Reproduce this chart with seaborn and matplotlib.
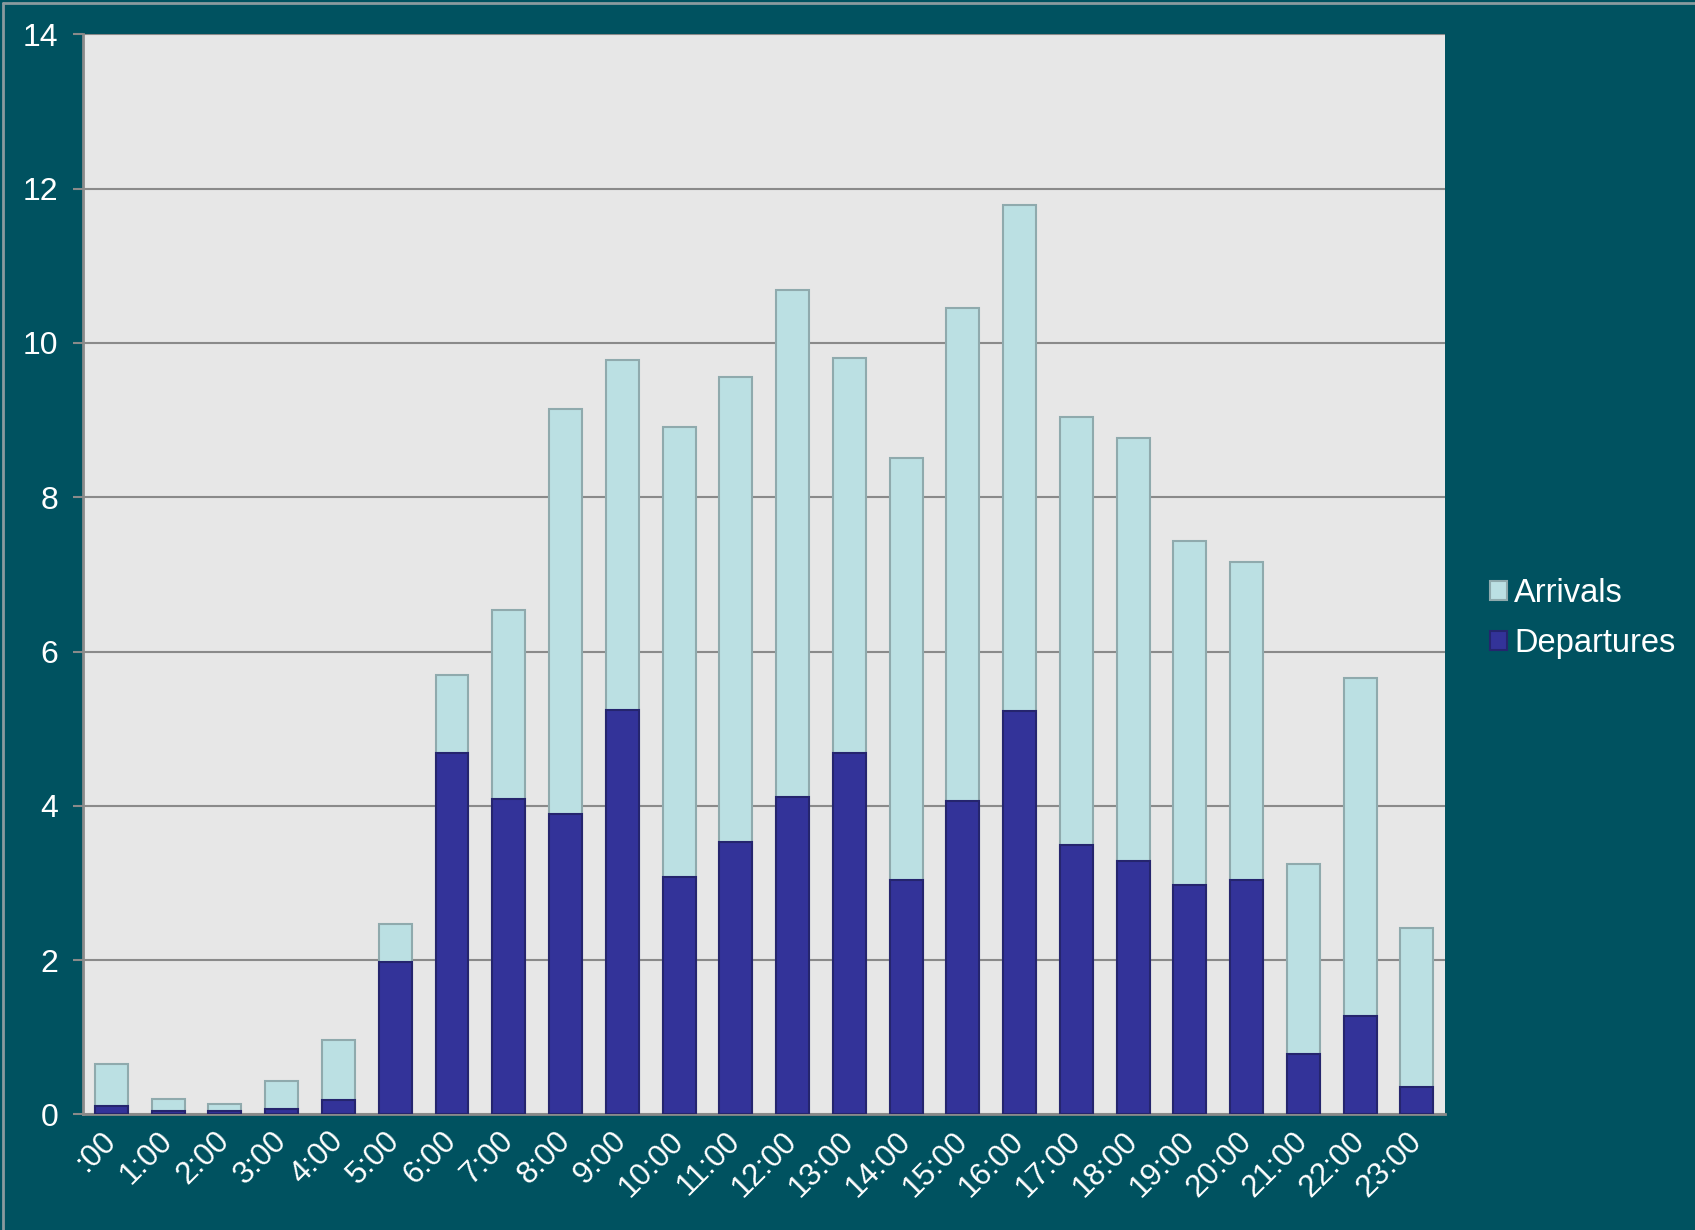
import matplotlib
matplotlib.use("Agg")
import matplotlib.pyplot as plt
import seaborn as sns
import pandas as pd
from matplotlib.patches import Patch
from matplotlib.lines import Line2D

hours = [":00", "1:00", "2:00", "3:00", "4:00", "5:00", "6:00", "7:00", "8:00", "9:00",
         "10:00", "11:00", "12:00", "13:00", "14:00", "15:00", "16:00", "17:00", "18:00",
         "19:00", "20:00", "21:00", "22:00", "23:00"]
departures = [0.11, 0.04, 0.04, 0.07, 0.18, 1.98, 4.68, 4.09, 3.90, 5.24, 3.08, 3.53,
              4.12, 4.68, 3.04, 4.06, 5.23, 3.49, 3.28, 2.98, 3.04, 0.78, 1.28, 0.35]
arrivals = [0.54, 0.16, 0.10, 0.36, 0.79, 0.49, 1.02, 2.45, 5.25, 4.54, 5.83, 6.03,
            6.57, 5.13, 5.47, 6.39, 6.56, 5.55, 5.49, 4.45, 4.12, 2.47, 4.38, 2.06]

df = pd.DataFrame({"hour": hours, "Departures": departures, "Arrivals": arrivals})
df["Total"] = df["Departures"] + df["Arrivals"]

BG = "#005260"
PLOT_BG = "#E7E7E7"
DEP = "#333399"
DEP_EDGE = "#25256E"
ARR = "#BBE0E3"
ARR_EDGE = "#8FAAAD"
GRID = "#8A8A8A"

sns.set_style("white")
plt.rcParams["font.family"] = ["Liberation Sans", "DejaVu Sans"]

fig = plt.figure(figsize=(16.95, 12.3), dpi=100, facecolor=BG)
ax = fig.add_axes([0.049, 0.094, 0.8037, 0.878])
ax.set_facecolor(PLOT_BG)

sns.barplot(data=df, x="hour", y="Total", color=ARR, edgecolor=ARR_EDGE, linewidth=1.5,
            width=0.58, saturation=1, ax=ax, zorder=3)
sns.barplot(data=df, x="hour", y="Departures", color=DEP, edgecolor=DEP_EDGE, linewidth=1.5,
            width=0.58, saturation=1, ax=ax, zorder=4)

ax.set_ylim(0, 14)
ax.set_xlim(-0.5, len(hours) - 0.5)
ax.set_yticks(range(0, 15, 2))
ax.yaxis.grid(True, color=GRID, linewidth=1.5, zorder=0)
ax.xaxis.grid(False)
ax.set_axisbelow(True)
ax.set_xlabel("")
ax.set_ylabel("")

for s in ["right", "top"]:
    ax.spines[s].set_visible(False)
for s in ["left", "bottom"]:
    ax.spines[s].set_visible(True)
    ax.spines[s].set_color(GRID)
    ax.spines[s].set_linewidth(2)

ax.tick_params(axis="y", colors=GRID, labelcolor="white", labelsize=23, length=7,
               width=1.5, pad=11, direction="out", left=True)
ax.tick_params(axis="x", labelcolor="white", labelsize=22.5, length=0, pad=16)
plt.setp(ax.get_xticklabels(), rotation=45, ha="right", va="center", rotation_mode="anchor")

handles = [Patch(facecolor=ARR, edgecolor=ARR_EDGE, linewidth=1.5, label="Arrivals"),
           Patch(facecolor=DEP, edgecolor=DEP_EDGE, linewidth=1.5, label="Departures")]
leg = fig.legend(handles=handles, loc="center left", bbox_to_anchor=(0.8715, 0.497),
                 frameon=False, fontsize=23.5, handlelength=0.52, handleheight=0.52,
                 handletextpad=0.22, labelspacing=0.6, borderaxespad=0)
for t in leg.get_texts():
    t.set_color("white")

fig.add_artist(Line2D([0.002, 1.0], [0.9975, 0.9975], color="#8A9A9E", linewidth=2, transform=fig.transFigure))
fig.add_artist(Line2D([0.002, 0.002], [0.0, 0.9975], color="#8A9A9E", linewidth=2, transform=fig.transFigure))

fig.savefig("out.png", dpi=100, facecolor=BG)
